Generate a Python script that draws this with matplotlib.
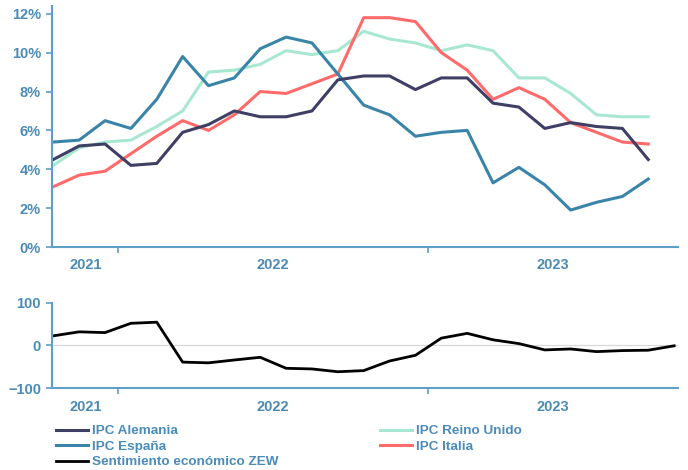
import matplotlib
matplotlib.use("Agg")
import matplotlib.pyplot as plt
import matplotlib.transforms as mtransforms

plt.rcParams["font.family"] = ["Liberation Sans", "DejaVu Sans"]

# monthly, Oct 2021 .. Sep 2023 (ZEW runs to Oct 2023)
ipc_alemania = [4.5, 5.2, 5.3, 4.2, 4.3, 5.9, 6.3, 7.0, 6.7, 6.7, 7.0, 8.6,
                8.8, 8.8, 8.1, 8.7, 8.7, 7.4, 7.2, 6.1, 6.4, 6.2, 6.1, 4.5]
ipc_espana = [5.4, 5.5, 6.5, 6.1, 7.6, 9.8, 8.3, 8.7, 10.2, 10.8, 10.5, 8.9,
              7.3, 6.8, 5.7, 5.9, 6.0, 3.3, 4.1, 3.2, 1.9, 2.3, 2.6, 3.5]
ipc_reino_unido = [4.2, 5.1, 5.4, 5.5, 6.2, 7.0, 9.0, 9.1, 9.4, 10.1, 9.9, 10.1,
                   11.1, 10.7, 10.5, 10.1, 10.4, 10.1, 8.7, 8.7, 7.9, 6.8, 6.7, 6.7]
ipc_italia = [3.1, 3.7, 3.9, 4.8, 5.7, 6.5, 6.0, 6.8, 8.0, 7.9, 8.4, 8.9,
              11.8, 11.8, 11.6, 10.0, 9.1, 7.6, 8.2, 7.6, 6.4, 5.9, 5.4, 5.3]
zew = [22.3, 31.7, 29.9, 51.7, 54.3, -39.3, -41.0, -34.3, -28.0, -53.8, -55.3, -61.9,
       -59.2, -36.7, -23.3, 16.9, 28.1, 13.0, 4.1, -10.7, -8.5, -14.7, -12.3, -11.4, -1.1]

years = ["2021", "2022", "2023"]
year_centres = [1.25, 8.5, 19.3]
year_bounds = [2.5, 14.5]

TXT = "#4a8bb8"
SPINE = "#5d9fc8"
colors = {"IPC Alemania": "#3f3f66", "IPC España": "#3a84a8",
          "IPC Reino Unido": "#a8e8d0", "IPC Italia": "#ff6b6b"}

fig = plt.figure(figsize=(6.88, 4.70), dpi=100)
ax1 = fig.add_axes([52/688, 1-247/470, 626/688, 241/470])
ax2 = fig.add_axes([52/688, 1-388/470, 626/688, 85.3/470])

x = list(range(len(ipc_alemania)))
handles = {}
for name, vals in [("IPC Reino Unido", ipc_reino_unido), ("IPC Italia", ipc_italia),
                   ("IPC España", ipc_espana), ("IPC Alemania", ipc_alemania)]:
    handles[name], = ax1.plot(x, vals, color=colors[name], lw=2.2, label=name)

ax2.axhline(0, color="#d9d9d9", lw=0.9, zorder=0)
handles["Sentimiento económico ZEW"], = ax2.plot(range(len(zew)), zew, color="black", lw=2.0,
                                                 label="Sentimiento económico ZEW")

ax1.set_ylim(0, 12.4)
ax1.set_yticks(range(0, 13, 2))
ax1.set_yticklabels([f"{v}%" for v in range(0, 13, 2)])
ax2.set_ylim(-100, 100)
ax2.set_yticks([-100, 0, 100])

for ax in (ax1, ax2):
    ax.set_xlim(-0.05, 24.15)
    ax.set_xticks(year_bounds)
    ax.set_xticklabels([])
    for s in ("top", "right"):
        ax.spines[s].set_visible(False)
    for s in ("left", "bottom"):
        ax.spines[s].set_color(SPINE)
        ax.spines[s].set_linewidth(1.5)
    ax.tick_params(axis="both", colors=SPINE, length=4, width=1.2)
    ax.tick_params(axis="y", labelcolor=TXT, labelsize=10.5, pad=4)
    for lab in ax.get_yticklabels():
        lab.set_fontweight("bold")
    tr = mtransforms.blended_transform_factory(ax.transData, ax.transAxes)
    for yr, xc in zip(years, year_centres):
        ax.text(xc, -0.075 if ax is ax1 else -0.22, yr, transform=tr, ha="center", va="center",
                color=TXT, fontsize=10.5, fontweight="bold")

order = ["IPC Alemania", "IPC España", "Sentimiento económico ZEW", "IPC Reino Unido", "IPC Italia"]
fig.legend([handles[k] for k in order], order, loc="upper left", bbox_to_anchor=(56/688, 1-425/470),
           ncol=2, frameon=False, labelcolor=TXT, handlelength=2.4, handletextpad=0.3,
           labelspacing=0.22, columnspacing=7.5, borderpad=0, borderaxespad=0,
           prop={"weight": "bold", "size": 9.7})

fig.savefig("out.png", dpi=100)
